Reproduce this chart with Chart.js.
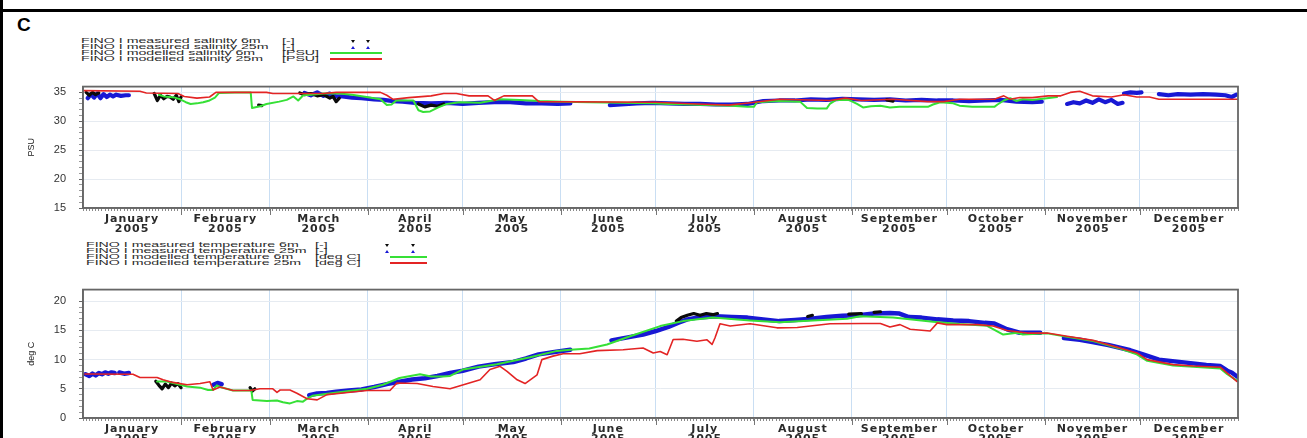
<!DOCTYPE html>
<html>
<head>
<meta charset="utf-8">
<script src="https://cdn.jsdelivr.net/npm/chart.js@4.4.1/dist/chart.umd.min.js"></script>
<style>
  html, body { margin: 0; padding: 0; background: #fff; overflow: hidden; }
  #page { position: relative; width: 1307px; height: 438px; overflow: hidden; font-family: "Liberation Sans", Arial, sans-serif; }
  .rule { position: absolute; left: 0; top: 9px; width: 1307px; height: 2.5px; background: #000; }
  .side { position: absolute; left: 0; top: 0; width: 3px; height: 438px; background: #000; z-index: 5; }
  .tag { position: absolute; left: 17px; top: 15px; font: bold 19px/19px "Liberation Sans", Arial, sans-serif; color: #000; }
  .leg { position: absolute; font-size: 6.6px; line-height: 6px; height: 6px; white-space: pre; color: #2a2a2a;
         transform: scaleX(2.15); transform-origin: 0 50%; }
  .swatch { position: absolute; height: 2px; }
  .tri { position: absolute; width: 0; height: 0; border-left: 2.5px solid transparent; border-right: 2.5px solid transparent; }
  .box { position: absolute; left: 0; width: 1307px; }
</style>
</head>
<body>
<div id="page">
  <div class="side"></div>
  <div class="rule"></div>
  <div class="tag">C</div>
  <div id="legends"></div>
  <div class="box" style="top:67px;height:173px;"><canvas id="salChart"></canvas></div>
  <div class="box" style="top:270px;height:183px;"><canvas id="tempChart"></canvas></div>
</div>
<script>
// x values are day of year 2005 (0 = 1 January)
const monthNames = ['January', 'February', 'March', 'April', 'May', 'June', 'July',
  'August', 'September', 'October', 'November', 'December'];
const yearLabel = '2005';
const monthStarts = [0, 31, 59, 90, 120, 151, 181, 212, 243, 273, 304, 334, 365];

const salTicks = [15, 20, 25, 30, 35];
const tempTicks = [0, 5, 10, 15, 20];

// ---- salinity ----
const salMeas6Days = [1, 2, 3, 4, 5, 6, 22.5, 23.5, 24.5, 25.5, 26.5, 27.5, 28.5, 29.5, 30.3, 31, 32,
  55.5, 56.5, 57, 68.5, 70, 72, 74, 76, 78, 79, 80, 81, 82, 106, 108, 110, 112, 114, 115, 254, 256, 257];
const salMeas6 = [35.0, 34.5, 35.0, 34.6, 34.9, null, 34.8, 33.6, 34.5, 33.9, 34.3, 34.2, 33.8, 34.5, 33.4, 34.2, null,
  32.8, 32.7, null, 34.9, 34.6, 34.8, 34.4, 34.6, 34.0, 34.3, 33.4, 34.0, null, 33.0, 32.5, 32.8, 32.6, 33.0, null, 33.7, 33.5, null];

const salMeas25Days = [1.5, 2.5, 3.5, 4.5, 5.5, 6.5, 7.5, 8.5, 9.5, 10.5, 12, 13.5, 14.5, 15,
  70, 72, 74, 76, 78, 80, 82, 85, 88, 92, 95, 98, 101, 105, 110, 115, 120, 125, 130, 135, 140, 145, 150, 154, 160,
  166.5, 170, 175, 180, 185, 190, 195, 200, 205, 210, 215, 220, 225, 230, 235, 240, 245, 250, 255, 260, 265, 270,
  275, 280, 285, 290, 295, 300, 303, 306,
  311, 313, 315, 317, 319, 321, 323, 325, 327, 328.5, 328.8,
  329, 331, 333, 334.5, 337,
  340, 343, 346, 350, 354, 358, 361, 363, 364.5];
const salMeas25 = [34.0, 34.7, 34.1, 34.8, 34.0, 34.7, 34.2, 34.6, 34.3, 34.6, 34.4, 34.5, 34.5, null,
  34.9, 34.5, 35.0, 34.4, 34.8, 34.3, 34.3, 34.1, 34.0, 33.8, 33.7, 33.5, 33.4, 33.2, 33.1, 33.2, 33.0, 33.2, 33.3, 33.3, 33.1, 33.1, 33.0, 33.1, null,
  32.8, 32.9, 33.1, 33.2, 33.1, 33.0, 33.0, 32.9, 32.9, 33.0, 33.5, 33.6, 33.6, 33.8, 33.7, 33.9, 33.8, 33.7, 33.8, 33.6, 33.7, 33.6,
  33.6, 33.5, 33.6, 33.7, 33.4, 33.3, 33.4, null,
  33.0, 33.3, 33.1, 33.6, 33.2, 33.8, 33.3, 33.7, 33.0, 33.2, null,
  34.8, 35.0, 34.9, 35.0, null,
  34.7, 34.5, 34.7, 34.6, 34.7, 34.6, 34.5, 34.2, 34.6];

const salModel6Days = [24, 25.5, 27.5, 29, 30.7, 32.5, 34, 36, 38, 40, 41.7, 43, 48, 53, 53.4, 56, 58, 62, 64.4, 66.5,
  68, 69.6, 72, 76, 81, 85, 89.6, 94, 96, 97.5, 99, 104.4, 106, 107.5, 109.7, 112.3, 115, 119, 125.5, 131.8,
  138, 144.4, 151.7, 160, 170, 180, 185, 191, 197, 205, 210, 212, 213, 220, 226.6, 228.8, 232, 235, 236, 238,
  242, 244.6, 246.5, 249, 252, 255, 258, 267, 268.6, 270.9, 275, 277, 281, 288, 289, 291, 293, 295, 297, 300, 304.6, 307.8];
const salModel6 = [34.6, 34.3, 34.2, 34.1, 33.8, 33.3, 33.0, 33.1, 33.3, 33.6, 34.1, 34.9, 35.0, 35.0, 32.3, 32.6, 33.0, 33.4, 33.7, 34.3,
  33.6, 34.5, 34.6, 34.8, 34.8, 34.6, 34.2, 33.8, 32.8, 32.9, 33.6, 33.6, 31.9, 31.6, 31.7, 32.4, 33.0, 33.3, 33.2, 33.8,
  33.7, 33.5, 33.4, 33.3, 33.2, 33.1, 33.0, 32.9, 32.8, 32.7, 32.5, 32.5, 33.3, 33.5, 33.4, 32.3, 32.2, 32.2, 33.0, 33.7,
  33.7, 33.0, 32.4, 32.6, 32.7, 32.4, 32.5, 32.5, 32.9, 33.3, 33.1, 32.7, 32.5, 32.5, 32.9, 33.6, 34.0, 33.5, 33.8, 33.7, 34.0, 34.2];

const salModel25Days = [0, 18, 20, 30, 32, 36, 40, 42, 58, 60, 76, 80, 94, 96, 98, 103, 110, 114, 118, 122,
  128, 130, 133, 142, 144, 181, 194, 204, 211, 220, 236, 241, 246, 256, 267, 272, 277, 288, 291, 293,
  296, 300, 305, 309, 312, 315, 319, 325, 329, 333, 337, 340, 365];
const salModel25 = [35.3, 35.2, 34.9, 34.8, 34.3, 34.0, 34.2, 35.0, 35.0, 34.8, 34.8, 35.0, 35.0, 34.5, 33.8, 34.1, 34.4, 34.8, 34.8, 34.4,
  34.4, 33.6, 34.4, 34.4, 33.4, 33.3, 33.0, 32.8, 33.2, 33.8, 33.6, 34.0, 33.6, 33.8, 33.4, 33.4, 33.8, 33.8, 34.4, 33.8,
  34.1, 34.1, 34.4, 34.4, 35.0, 35.2, 34.4, 34.2, 34.6, 34.2, 34.2, 33.8, 33.8];

// ---- temperature ----
const tempMeas6Days = [23, 24, 25, 26, 27, 28, 29, 30, 31, 31.5, 52.8, 53.5, 54.3, 54.6,
  187.5, 189, 191, 193, 195, 197, 199, 200.5, 201, 229, 230.5, 231, 242, 246, 246.5, 250, 252, 252.5];
const tempMeas6 = [6.3, 5.6, 5.0, 5.8, 5.2, 6.0, 5.5, 5.9, 5.2, null, 5.2, 4.6, 5.0, null,
  16.6, 17.2, 17.6, 17.9, 17.6, 17.9, 17.7, 17.9, null, 17.4, 17.6, null, 17.8, 17.9, null, 18.1, 18.2, null];

const tempMeas25Days = [0.8, 2, 3, 4, 5, 6, 7, 8, 9, 10, 11, 11.5, 13, 14.5, 15, 41.2, 42.5, 43.8, 44,
  71.5, 74, 77, 80, 84, 88, 92, 96, 100, 104, 108, 112, 116, 120, 125, 130, 136, 140, 144, 149, 154, 158,
  167, 170, 173, 177, 181, 185, 188, 191, 194, 197, 200, 205, 210, 215, 220, 225, 230, 235, 240, 245,
  250, 255, 258, 261, 265, 270, 275, 280, 285, 288, 292, 296, 302.5, 306,
  310, 315, 319, 324, 328, 331, 335, 340, 345, 350, 355, 359.4, 361.6, 363, 364.7];
const tempMeas25 = [7.5, 7.2, 7.6, 7.3, 7.7, 7.5, 7.8, 7.6, 7.8, 7.7, null, 7.8, 7.6, 7.7, null, 5.7, 6.0, 5.8, null,
  3.9, 4.2, 4.3, 4.5, 4.7, 4.9, 5.3, 5.8, 6.2, 6.6, 6.8, 7.2, 7.7, 8.1, 8.8, 9.2, 9.6, 10.2, 10.9, 11.3, 11.7, null,
  13.3, 13.6, 13.9, 14.3, 14.9, 15.6, 16.3, 16.9, 17.2, 17.3, 17.45, 17.3, 17.2, 16.9, 16.6, 16.8, 17.0, 17.3, 17.5, 17.6,
  17.9, 18.0, 17.9, 17.3, 17.2, 16.9, 16.7, 16.6, 16.3, 16.2, 15.2, 14.6, 14.6, null,
  13.7, 13.4, 13.0, 12.5, 12.0, 11.6, 10.9, 10.0, 9.7, 9.4, 9.1, 8.9, 8.1, 7.8, 7.1];

const tempModel6Days = [23.4, 26.5, 30.7, 32.9, 37, 39.5, 41.1, 42.3, 43.3, 47.4, 52.8, 53.2, 53.6, 58.1, 61.3, 63.2, 65.4, 67.6, 69.5, 70.8,
  72.5, 79, 89.8, 94.8, 100, 106.5, 110, 113.8, 116, 120, 130.8, 141.3, 149.8, 154, 160, 165.6, 172.9, 182.4, 189.6, 199,
  210.8, 220.3, 230.7, 241.5, 245.6, 256, 268.6, 277, 285.7, 290.8, 295.2, 297, 304.7, 311, 319.2, 327.7, 333, 336.3, 344.5, 350.8,
  359.4, 361.6, 364.7];
const tempModel6 = [6.25, 6.25, 5.7, 5.4, 5.2, 4.8, 4.8, 5.6, 5.3, 4.7, 4.7, 4.7, 3.1, 2.9, 3.0, 2.7, 2.5, 2.9, 2.8, 3.3,
  3.8, 4.3, 5.0, 5.7, 6.85, 7.5, 7.1, 7.1, 7.2, 8.3, 9.2, 10.4, 11.5, 11.7, 11.9, 12.6, 14.0, 15.75, 16.6, 17.2,
  16.7, 16.4, 16.7, 17.0, 17.45, 17.2, 16.5, 16.1, 15.8, 14.3, 14.6, 14.3, 14.5, 13.9, 13.2, 11.9, 10.9, 9.8, 9.0, 8.8,
  8.5, 7.5, 6.4];

const tempModel25Days = [0.6, 15.8, 18, 23.4, 25.3, 28.4, 32.9, 37, 40.1, 41.1, 43.3, 47.4, 52.8, 55.9, 60, 61.3, 62.3, 65.4, 67.6, 70.8,
  74, 77.1, 84.4, 89.8, 97, 99.2, 105.6, 110.6, 116, 125.5, 128.6, 131.8, 134, 137.2, 139.7, 143.5, 145, 148.5, 151.7, 157,
  162.5, 170.7, 177, 180.2, 182.4, 184.6, 186.5, 189.6, 194, 197.2, 198.8, 199.7, 201.3, 204.5, 210.8, 219.3, 225.7, 236.1, 246.5, 252,
  255, 258.2, 261.4, 267.7, 270, 273, 282.6, 287.6, 292, 298.4, 304.7, 311, 319.2, 327.7, 333.1, 336.3, 344.5, 350.8, 359.4, 361.6,
  364.7];
const tempModel25 = [7.55, 7.5, 6.95, 6.95, 6.55, 6.1, 5.7, 5.9, 6.2, 4.8, 5.3, 4.7, 4.7, 5.0, 5.0, 4.4, 4.8, 4.8, 4.25, 3.3,
  3.1, 4.0, 4.4, 4.7, 4.7, 6.0, 5.9, 5.4, 5.0, 6.55, 8.3, 8.85, 8.0, 6.55, 5.9, 7.4, 10.0, 10.6, 11.0, 11.0,
  11.55, 11.7, 12.0, 11.15, 11.4, 10.85, 13.45, 13.5, 13.15, 13.4, 12.6, 13.7, 16.15, 15.75, 16.15, 15.45, 15.5, 16.15, 16.2, 16.2,
  15.6, 16.0, 15.2, 14.9, 16.3, 16.0, 16.0, 15.75, 15.0, 14.55, 14.55, 14.0, 13.3, 12.0, 11.15, 10.0, 9.15, 8.9, 8.7, 7.7,
  6.25];

const RED = '#e32424', GREEN = '#36e036', BLUE = '#1818d4', BLACK = '#0a0a0a';

// ---- legends (HTML) ----
const legendSets = [
  { nameX: 81, unitX: 282, rows: [41, 47, 53, 59], markX: [353, 368], line: [330, 382],
    names: ['FINO I measured salinity 6m', 'FINO I measured salinity 25m', 'FINO I modelled salinity 6m', 'FINO I modelled salinity 25m'],
    units: ['[-]', '[-]', '[PSU]', '[PSU]'] },
  { nameX: 86, unitX: 315, rows: [245, 251, 257, 263], markX: [387, 413], line: [390, 427],
    names: ['FINO I measured temperature 6m', 'FINO I measured temperature 25m', 'FINO I modelled temperature 6m', 'FINO I modelled temperature 25m'],
    units: ['[-]', '[-]', '[deg C]', '[deg C]'] }
];
const legendHost = document.getElementById('legends');
legendSets.forEach(set => {
  set.rows.forEach((cy, i) => {
    const n = document.createElement('div');
    n.className = 'leg'; n.style.left = set.nameX + 'px'; n.style.top = (cy - 3) + 'px';
    n.textContent = set.names[i];
    legendHost.appendChild(n);
    const u = document.createElement('div');
    u.className = 'leg'; u.style.left = set.unitX + 'px'; u.style.top = (cy - 3) + 'px';
    u.textContent = set.units[i];
    legendHost.appendChild(u);
    if (i < 2) {
      set.markX.forEach(mx => {
        const t = document.createElement('div');
        t.className = 'tri';
        t.style.left = (mx - 2.5) + 'px';
        t.style.top = (cy - 1.5) + 'px';
        if (i === 0) t.style.borderTop = '3px solid ' + BLACK;
        else t.style.borderBottom = '3px solid ' + BLUE;
        legendHost.appendChild(t);
      });
    } else {
      const s = document.createElement('div');
      s.className = 'swatch';
      s.style.left = set.line[0] + 'px'; s.style.width = (set.line[1] - set.line[0]) + 'px';
      s.style.top = (cy - 1) + 'px'; s.style.background = i === 2 ? GREEN : RED;
      legendHost.appendChild(s);
    }
  });
});

// ---- charts ----
function series(label, days, vals, color, width) {
  return {
    label: label,
    data: days.map((d, i) => ({ x: d, y: vals[i] })),
    borderColor: color,
    backgroundColor: color,
    borderWidth: width,
    pointRadius: 0,
    spanGaps: false,
    tension: 0,
    borderJoinStyle: 'round',
    borderCapStyle: 'round'
  };
}

const monthMids = monthNames.map((m, i) => (monthStarts[i] + monthStarts[i + 1]) / 2);

// month labels in the original are drawn wide, so space the letters out a bit
function spaceLabels(scale) {
  if (scale._spaced) return;
  scale._spaced = true;
  const draw = scale.drawLabels;
  scale.drawLabels = function (area) {
    const c = this.ctx;
    c.save();
    c.letterSpacing = '1px';
    draw.call(this, area);
    c.restore();
  };
}

function xAxis() {
  return {
    type: 'linear',
    min: 0,
    max: 365,
    afterBuildTicks: scale => {
      const vals = [];
      for (let d = 0; d <= 365; d++) vals.push(d);
      monthMids.forEach(m => { if (!Number.isInteger(m)) vals.push(m); });
      vals.sort((a, b) => a - b);
      scale.ticks = vals.map(v => ({ value: v }));
    },
    afterFit: scale => { scale.height = 30; },
    afterUpdate: spaceLabels,
    ticks: {
      autoSkip: false,
      maxRotation: 0,
      minRotation: 0,
      padding: 3,
      color: '#2a2a2a',
      font: { family: 'DejaVu Sans', size: 11, weight: 'bold', lineHeight: 0.9 },
      callback: value => {
        const i = monthMids.indexOf(value);
        return i >= 0 ? [monthNames[i], yearLabel] : '';
      }
    },
    grid: {
      drawOnChartArea: true,
      tickLength: 3,
      lineWidth: 1,
      color: ctx => (ctx.tick && monthStarts.indexOf(ctx.tick.value) > 0 && ctx.tick.value < 365) ? '#c9def3' : 'rgba(0,0,0,0)',
      tickColor: ctx => (ctx.tick && monthMids.indexOf(ctx.tick.value) >= 0 && monthStarts.indexOf(ctx.tick.value) < 0) ? 'rgba(0,0,0,0)' : '#8a8a8a'
    },
    border: { display: true, color: '#777', width: 1.5 }
  };
}

function yAxis(min, max, labelled, title) {
  return {
    type: 'linear',
    min: min,
    max: max,
    afterBuildTicks: scale => {
      const vals = [];
      for (let v = min; v <= labelled[labelled.length - 1]; v++) vals.push(v);
      scale.ticks = vals.map(v => ({ value: v }));
    },
    afterFit: scale => { scale.width = 83; },
    ticks: {
      autoSkip: false,
      padding: 13,
      color: '#333',
      font: { family: 'Liberation Sans', size: 11 },
      callback: value => labelled.indexOf(value) >= 0 ? String(value) : ''
    },
    grid: {
      tickLength: 4,
      color: ctx => (ctx.tick && labelled.indexOf(ctx.tick.value) > 0) ? '#e6ebf1' : 'rgba(0,0,0,0)',
      tickColor: ctx => (ctx.tick && labelled.indexOf(ctx.tick.value) >= 0) ? '#666' : '#999'
    },
    border: { display: true, color: '#777', width: 1.5 },
    title: {
      display: true,
      text: title,
      color: '#222',
      font: { family: 'Liberation Sans', size: 9 },
      padding: { top: 26, bottom: 0 }
    }
  };
}

const framePlugin = {
  id: 'frame',
  afterDraw(chart) {
    const { ctx, chartArea: a, scales: { x } } = chart;
    ctx.save();
    ctx.strokeStyle = '#666';
    ctx.lineWidth = 1.8;
    ctx.strokeRect(a.left, a.top, a.right - a.left, a.bottom - a.top);
    ctx.strokeStyle = '#777';
    ctx.lineWidth = 1;
    monthStarts.slice(1, -1).forEach(d => {
      const px = Math.round(x.getPixelForValue(d)) + 0.5;
      ctx.beginPath();
      ctx.moveTo(px, a.bottom);
      ctx.lineTo(px, a.bottom + 7);
      ctx.stroke();
    });
    ctx.restore();
  }
};

function makeChart(id, datasets, y, padBottom) {
  return new Chart(document.getElementById(id), {
    type: 'line',
    data: { datasets: datasets },
    options: {
      responsive: true,
      maintainAspectRatio: false,
      animation: false,
      events: [],
      layout: { padding: { top: 0, right: 69, bottom: padBottom, left: 0 } },
      plugins: { legend: { display: false }, tooltip: { enabled: false } },
      scales: { x: xAxis(), y: y }
    },
    plugins: [framePlugin]
  });
}

// first dataset is drawn on top
makeChart('salChart', [
  series('FINO I modelled salinity 25m', salModel25Days, salModel25, RED, 1.6),
  series('FINO I modelled salinity 6m', salModel6Days, salModel6, GREEN, 2),
  series('FINO I measured salinity 6m', salMeas6Days, salMeas6, BLACK, 3.2),
  series('FINO I measured salinity 25m', salMeas25Days, salMeas25, BLUE, 4.2)
], yAxis(15, 36, salTicks, 'PSU'), 2);

makeChart('tempChart', [
  series('FINO I modelled temperature 25m', tempModel25Days, tempModel25, RED, 1.6),
  series('FINO I modelled temperature 6m', tempModel6Days, tempModel6, GREEN, 2),
  series('FINO I measured temperature 6m', tempMeas6Days, tempMeas6, BLACK, 3.2),
  series('FINO I measured temperature 25m', tempMeas25Days, tempMeas25, BLUE, 4.5)
], yAxis(0, 22, tempTicks, 'deg C'), 5);
</script>
</body>
</html>
